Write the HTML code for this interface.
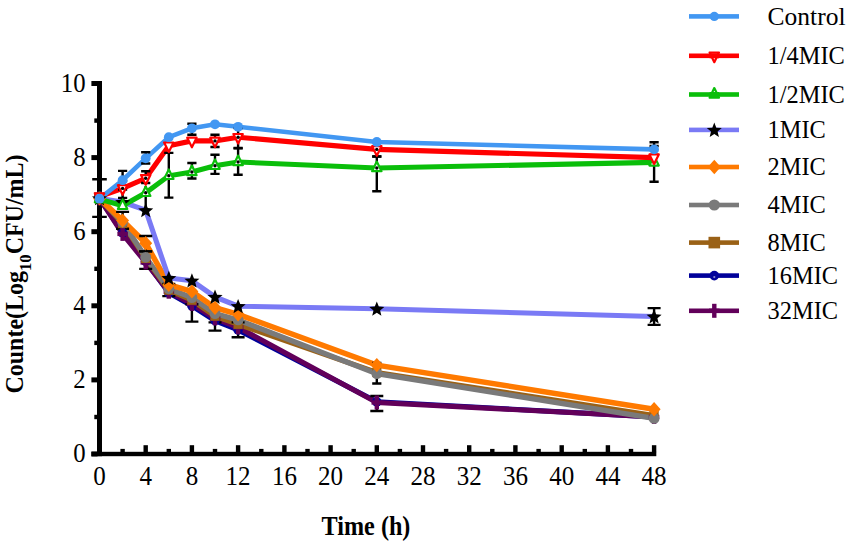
<!DOCTYPE html><html><head><meta charset="utf-8"><style>html,body{margin:0;padding:0;background:#fff;width:851px;height:548px;overflow:hidden}svg{display:block}text{font-family:"Liberation Serif",serif}</style></head><body><svg width="851" height="548" viewBox="0 0 851 548"><rect width="851" height="548" fill="#fff"/><rect x="97" y="81" width="5" height="375.2" fill="#000"/><rect x="91.4" y="451.8" width="564.9" height="4.4" fill="#000"/><rect x="91.4" y="451.5" width="6" height="5" fill="#000"/><rect x="94.3" y="414.8" width="3" height="4.4" fill="#000"/><rect x="91.4" y="377.4" width="6" height="5" fill="#000"/><rect x="94.3" y="340.7" width="3" height="4.4" fill="#000"/><rect x="91.4" y="303.3" width="6" height="5" fill="#000"/><rect x="94.3" y="266.6" width="3" height="4.4" fill="#000"/><rect x="91.4" y="229.2" width="6" height="5" fill="#000"/><rect x="94.3" y="192.5" width="3" height="4.4" fill="#000"/><rect x="91.4" y="155.1" width="6" height="5" fill="#000"/><rect x="94.3" y="118.4" width="3" height="4.4" fill="#000"/><rect x="91.4" y="81.0" width="6" height="5" fill="#000"/><rect x="97.3" y="445.2" width="4.4" height="7" fill="#000"/><rect x="120.4" y="448.9" width="4.4" height="3.5" fill="#000"/><rect x="143.5" y="445.2" width="4.4" height="7" fill="#000"/><rect x="166.6" y="448.9" width="4.4" height="3.5" fill="#000"/><rect x="189.7" y="445.2" width="4.4" height="7" fill="#000"/><rect x="212.8" y="448.9" width="4.4" height="3.5" fill="#000"/><rect x="235.9" y="445.2" width="4.4" height="7" fill="#000"/><rect x="259.1" y="448.9" width="4.4" height="3.5" fill="#000"/><rect x="282.2" y="445.2" width="4.4" height="7" fill="#000"/><rect x="305.3" y="448.9" width="4.4" height="3.5" fill="#000"/><rect x="328.4" y="445.2" width="4.4" height="7" fill="#000"/><rect x="351.5" y="448.9" width="4.4" height="3.5" fill="#000"/><rect x="374.6" y="445.2" width="4.4" height="7" fill="#000"/><rect x="397.7" y="448.9" width="4.4" height="3.5" fill="#000"/><rect x="420.8" y="445.2" width="4.4" height="7" fill="#000"/><rect x="443.9" y="448.9" width="4.4" height="3.5" fill="#000"/><rect x="467.0" y="445.2" width="4.4" height="7" fill="#000"/><rect x="490.1" y="448.9" width="4.4" height="3.5" fill="#000"/><rect x="513.2" y="445.2" width="4.4" height="7" fill="#000"/><rect x="536.4" y="448.9" width="4.4" height="3.5" fill="#000"/><rect x="559.5" y="445.2" width="4.4" height="7" fill="#000"/><rect x="582.6" y="448.9" width="4.4" height="3.5" fill="#000"/><rect x="605.7" y="445.2" width="4.4" height="7" fill="#000"/><rect x="628.8" y="448.9" width="4.4" height="3.5" fill="#000"/><rect x="651.9" y="445.2" width="4.4" height="7" fill="#000"/><polyline points="99.5,198.4 122.6,232.8 145.7,261.3 168.8,292.8 191.9,305.8 215.0,320.6 238.1,329.9 376.8,401.8 654.1,416.9" fill="none" stroke="#00009a" stroke-width="5.1" stroke-linejoin="miter" stroke-miterlimit="3"/><polyline points="99.5,198.4 122.6,233.9 145.7,262.5 168.8,291.7 191.9,303.9 215.0,318.4 238.1,327.3 376.8,402.5 654.1,416.9" fill="none" stroke="#62005a" stroke-width="5.1" stroke-linejoin="miter" stroke-miterlimit="3"/><polyline points="99.5,198.4 122.6,223.5 145.7,258.4 168.8,290.2 191.9,300.2 215.0,316.2 238.1,324.3 376.8,372.5 654.1,415.5" fill="none" stroke="#9a6116" stroke-width="5.1" stroke-linejoin="miter" stroke-miterlimit="3"/><polyline points="99.5,198.4 122.6,222.1 145.7,257.3 168.8,288.8 191.9,297.6 215.0,313.6 238.1,319.9 376.8,373.6 654.1,418.4" fill="none" stroke="#7a7a7a" stroke-width="5.3" stroke-linejoin="miter" stroke-miterlimit="3"/><polyline points="99.5,198.4 122.6,220.6 145.7,243.2 168.8,284.7 191.9,291.4 215.0,307.7 238.1,314.3 376.8,365.1 654.1,409.2" fill="none" stroke="#ff7a00" stroke-width="5.5" stroke-linejoin="miter" stroke-miterlimit="3"/><polyline points="99.5,198.4 122.6,202.1 145.7,210.2 168.8,278.0 191.9,280.6 215.0,296.9 238.1,306.2 376.8,308.8 654.1,316.5" fill="none" stroke="#7a7af5" stroke-width="5.1" stroke-linejoin="miter" stroke-miterlimit="3"/><polyline points="99.5,199.1 122.6,205.8 145.7,192.8 168.8,175.8 191.9,172.0 215.0,165.8 238.1,162.0 376.8,168.0 654.1,162.4" fill="none" stroke="#0abe0a" stroke-width="5.1" stroke-linejoin="miter" stroke-miterlimit="3"/><polyline points="99.5,196.5 122.6,188.4 145.7,178.3 168.8,145.7 191.9,140.9 215.0,140.9 238.1,137.2 376.8,149.4 654.1,157.6" fill="none" stroke="#ff0000" stroke-width="5.1" stroke-linejoin="miter" stroke-miterlimit="3"/><polyline points="99.5,198.7 122.6,180.2 145.7,158.3 168.8,137.2 191.9,128.3 215.0,124.3 238.1,126.8 376.8,142.0 654.1,149.4" fill="none" stroke="#4297f2" stroke-width="4.6" stroke-linejoin="miter" stroke-miterlimit="3"/><path d="M99.5,179.2V216.9M92.2,179.2H106.8M92.2,216.9H106.8" stroke="#000" stroke-width="2.4" fill="none"/><path d="M122.6,170.9V189.5M118.0,170.9H127.2M118.0,189.5H127.2" stroke="#000" stroke-width="2.4" fill="none"/><path d="M145.7,152.3V163.5M141.1,152.3H150.3M141.1,163.5H150.3" stroke="#000" stroke-width="2.4" fill="none"/><path d="M191.9,123.7V134.7M187.3,123.7H196.5M187.3,134.7H196.5" stroke="#000" stroke-width="2.4" fill="none"/><path d="M654.1,142.3V155.0M649.5,142.3H658.7M649.5,155.0H658.7" stroke="#000" stroke-width="2.4" fill="none"/><path d="M122.6,181.0V197.9M118.0,181.0H127.2M118.0,197.9H127.2" stroke="#000" stroke-width="2.4" fill="none"/><path d="M145.7,171.3V183.0M141.1,171.3H150.3M141.1,183.0H150.3" stroke="#000" stroke-width="2.4" fill="none"/><path d="M215.0,134.7V147.0M210.4,134.7H219.6M210.4,147.0H219.6" stroke="#000" stroke-width="2.4" fill="none"/><path d="M238.1,128.0V148.0M233.5,128.0H242.7M233.5,148.0H242.7" stroke="#000" stroke-width="2.4" fill="none"/><path d="M376.8,148.0V156.5M372.2,148.0H381.4M372.2,156.5H381.4" stroke="#000" stroke-width="2.4" fill="none"/><path d="M168.8,152.9V197.6M164.2,152.9H173.4M164.2,197.6H173.4" stroke="#000" stroke-width="2.4" fill="none"/><path d="M191.9,163.0V178.5M187.3,163.0H196.5M187.3,178.5H196.5" stroke="#000" stroke-width="2.4" fill="none"/><path d="M215.0,154.7V173.9M210.4,154.7H219.6M210.4,173.9H219.6" stroke="#000" stroke-width="2.4" fill="none"/><path d="M238.1,148.4V174.8M233.5,148.4H242.7M233.5,174.8H242.7" stroke="#000" stroke-width="2.4" fill="none"/><path d="M376.8,156.5V191.2M372.2,156.5H381.4M372.2,191.2H381.4" stroke="#000" stroke-width="2.4" fill="none"/><path d="M654.1,146.0V181.7M649.5,146.0H658.7M649.5,181.7H658.7" stroke="#000" stroke-width="2.4" fill="none"/><path d="M122.6,211.9V228.7M116.1,211.9H129.1M116.1,228.7H129.1" stroke="#000" stroke-width="2.4" fill="none"/><path d="M145.7,236.0V251.4M139.2,236.0H152.2M139.2,251.4H152.2" stroke="#000" stroke-width="2.4" fill="none"/><path d="M145.7,251.4V268.9M139.2,251.4H152.2M139.2,268.9H152.2" stroke="#000" stroke-width="2.4" fill="none"/><path d="M168.8,284.0V296.1M162.3,284.0H175.3M162.3,296.1H175.3" stroke="#000" stroke-width="2.4" fill="none"/><path d="M191.9,304.3V321.6M185.4,304.3H198.4M185.4,321.6H198.4" stroke="#000" stroke-width="2.4" fill="none"/><path d="M215.0,322.4V330.6M208.5,322.4H221.5M208.5,330.6H221.5" stroke="#000" stroke-width="2.4" fill="none"/><path d="M238.1,322.4V337.2M231.6,322.4H244.6M231.6,337.2H244.6" stroke="#000" stroke-width="2.4" fill="none"/><path d="M376.8,363.0V383.5M372.2,363.0H381.4M372.2,383.5H381.4" stroke="#000" stroke-width="2.4" fill="none"/><path d="M376.8,396.0V411.0M370.3,396.0H383.3M370.3,411.0H383.3" stroke="#000" stroke-width="2.4" fill="none"/><path d="M654.1,308.1V324.9M647.6,308.1H660.6M647.6,324.9H660.6" stroke="#000" stroke-width="2.4" fill="none"/><path d="M145.7,186.0V207.0M145.7,186.0H145.7M145.7,207.0H145.7" stroke="#000" stroke-width="2.4" fill="none"/><circle cx="99.5" cy="198.4" r="4.8" fill="#00009a"/><circle cx="99.5" cy="199.9" r="1.1" fill="#8888cc"/><circle cx="122.6" cy="232.8" r="4.8" fill="#00009a"/><circle cx="122.6" cy="234.3" r="1.1" fill="#8888cc"/><circle cx="145.7" cy="261.3" r="4.8" fill="#00009a"/><circle cx="145.7" cy="262.8" r="1.1" fill="#8888cc"/><circle cx="168.8" cy="292.8" r="4.8" fill="#00009a"/><circle cx="168.8" cy="294.3" r="1.1" fill="#8888cc"/><circle cx="191.9" cy="305.8" r="4.8" fill="#00009a"/><circle cx="191.9" cy="307.3" r="1.1" fill="#8888cc"/><circle cx="215.0" cy="320.6" r="4.8" fill="#00009a"/><circle cx="215.0" cy="322.1" r="1.1" fill="#8888cc"/><circle cx="238.1" cy="329.9" r="4.8" fill="#00009a"/><circle cx="238.1" cy="331.4" r="1.1" fill="#8888cc"/><circle cx="376.8" cy="401.8" r="4.8" fill="#00009a"/><circle cx="376.8" cy="403.3" r="1.1" fill="#8888cc"/><circle cx="654.1" cy="416.9" r="4.8" fill="#00009a"/><circle cx="654.1" cy="418.4" r="1.1" fill="#8888cc"/><rect x="97.3" y="191.4" width="4.4" height="14.0" fill="#62005a"/><rect x="94.2" y="196.2" width="10.5" height="4.4" fill="#62005a"/><rect x="120.4" y="226.9" width="4.4" height="14.0" fill="#62005a"/><rect x="117.4" y="231.7" width="10.5" height="4.4" fill="#62005a"/><rect x="143.5" y="255.5" width="4.4" height="14.0" fill="#62005a"/><rect x="140.5" y="260.3" width="10.5" height="4.4" fill="#62005a"/><rect x="166.6" y="284.7" width="4.4" height="14.0" fill="#62005a"/><rect x="163.6" y="289.5" width="10.5" height="4.4" fill="#62005a"/><rect x="189.7" y="296.9" width="4.4" height="14.0" fill="#62005a"/><rect x="186.7" y="301.7" width="10.5" height="4.4" fill="#62005a"/><rect x="212.8" y="311.4" width="4.4" height="14.0" fill="#62005a"/><rect x="209.8" y="316.2" width="10.5" height="4.4" fill="#62005a"/><rect x="235.9" y="320.3" width="4.4" height="14.0" fill="#62005a"/><rect x="232.9" y="325.1" width="10.5" height="4.4" fill="#62005a"/><rect x="374.6" y="395.5" width="4.4" height="14.0" fill="#62005a"/><rect x="371.5" y="400.3" width="10.5" height="4.4" fill="#62005a"/><rect x="651.9" y="409.9" width="4.4" height="14.0" fill="#62005a"/><rect x="648.8" y="414.8" width="10.5" height="4.4" fill="#62005a"/><rect x="94.9" y="193.8" width="9.2" height="9.2" fill="#9a6116"/><rect x="118.0" y="218.9" width="9.2" height="9.2" fill="#9a6116"/><rect x="141.1" y="253.8" width="9.2" height="9.2" fill="#9a6116"/><rect x="164.2" y="285.6" width="9.2" height="9.2" fill="#9a6116"/><rect x="187.3" y="295.6" width="9.2" height="9.2" fill="#9a6116"/><rect x="210.4" y="311.6" width="9.2" height="9.2" fill="#9a6116"/><rect x="233.5" y="319.7" width="9.2" height="9.2" fill="#9a6116"/><rect x="372.2" y="367.9" width="9.2" height="9.2" fill="#9a6116"/><rect x="649.5" y="410.9" width="9.2" height="9.2" fill="#9a6116"/><circle cx="99.5" cy="198.4" r="5.4" fill="#7a7a7a"/><circle cx="122.6" cy="222.1" r="5.4" fill="#7a7a7a"/><circle cx="145.7" cy="257.3" r="5.4" fill="#7a7a7a"/><circle cx="168.8" cy="288.8" r="5.4" fill="#7a7a7a"/><circle cx="191.9" cy="297.6" r="5.4" fill="#7a7a7a"/><circle cx="215.0" cy="313.6" r="5.4" fill="#7a7a7a"/><circle cx="238.1" cy="319.9" r="5.4" fill="#7a7a7a"/><circle cx="376.8" cy="373.6" r="5.4" fill="#7a7a7a"/><circle cx="654.1" cy="418.4" r="5.4" fill="#7a7a7a"/><polygon points="99.5,191.2 106.0,198.4 99.5,205.6 93.0,198.4" fill="#ff7a00"/><polygon points="122.6,213.4 129.1,220.6 122.6,227.8 116.1,220.6" fill="#ff7a00"/><polygon points="145.7,236.0 152.2,243.2 145.7,250.4 139.2,243.2" fill="#ff7a00"/><polygon points="168.8,277.5 175.3,284.7 168.8,291.9 162.3,284.7" fill="#ff7a00"/><polygon points="191.9,284.2 198.4,291.4 191.9,298.6 185.5,291.4" fill="#ff7a00"/><polygon points="215.0,300.5 221.5,307.7 215.0,314.9 208.6,307.7" fill="#ff7a00"/><polygon points="238.1,307.1 244.6,314.3 238.1,321.5 231.7,314.3" fill="#ff7a00"/><polygon points="376.8,357.9 383.3,365.1 376.8,372.3 370.3,365.1" fill="#ff7a00"/><polygon points="654.1,402.0 660.6,409.2 654.1,416.4 647.6,409.2" fill="#ff7a00"/><polygon points="99.5,191.1 101.5,196.1 107.0,196.5 102.8,200.0 104.1,205.3 99.5,202.4 94.9,205.3 96.2,200.0 92.0,196.5 97.5,196.1" fill="#000"/><polygon points="122.6,194.8 124.7,199.8 130.1,200.2 125.9,203.7 127.3,209.1 122.6,206.1 118.0,209.1 119.3,203.7 115.1,200.2 120.6,199.8" fill="#000"/><polygon points="145.7,202.9 147.8,208.0 153.2,208.4 149.0,211.9 150.4,217.2 145.7,214.3 141.1,217.2 142.4,211.9 138.2,208.4 143.7,208.0" fill="#000"/><polygon points="168.8,270.7 170.9,275.8 176.3,276.2 172.1,279.7 173.5,285.0 168.8,282.1 164.2,285.0 165.5,279.7 161.3,276.2 166.8,275.8" fill="#000"/><polygon points="191.9,273.3 194.0,278.4 199.4,278.8 195.2,282.3 196.6,287.6 191.9,284.7 187.3,287.6 188.6,282.3 184.4,278.8 189.9,278.4" fill="#000"/><polygon points="215.0,289.6 217.1,294.7 222.6,295.1 218.3,298.6 219.7,303.9 215.0,301.0 210.4,303.9 211.7,298.6 207.5,295.1 213.0,294.7" fill="#000"/><polygon points="238.1,298.9 240.2,304.0 245.7,304.3 241.5,307.8 242.8,313.2 238.1,310.2 233.5,313.2 234.8,307.8 230.6,304.3 236.1,304.0" fill="#000"/><polygon points="376.8,301.5 378.8,306.6 384.3,306.9 380.1,310.4 381.4,315.8 376.8,312.8 372.2,315.8 373.5,310.4 369.3,306.9 374.8,306.6" fill="#000"/><polygon points="654.1,309.2 656.1,314.3 661.6,314.7 657.4,318.2 658.7,323.5 654.1,320.6 649.4,323.5 650.8,318.2 646.6,314.7 652.0,314.3" fill="#000"/><polygon points="94.8,202.3 104.2,202.3 99.5,192.7" fill="#fff" stroke="#0abe0a" stroke-width="2.2" stroke-linejoin="round"/><polygon points="117.9,209.0 127.3,209.0 122.6,199.4" fill="#fff" stroke="#0abe0a" stroke-width="2.2" stroke-linejoin="round"/><polygon points="141.0,196.0 150.4,196.0 145.7,186.4" fill="#fff" stroke="#0abe0a" stroke-width="2.2" stroke-linejoin="round"/><circle cx="145.7" cy="192.8" r="1.7" fill="#000"/><polygon points="164.1,179.0 173.5,179.0 168.8,169.4" fill="#fff" stroke="#0abe0a" stroke-width="2.2" stroke-linejoin="round"/><circle cx="168.8" cy="175.8" r="1.7" fill="#000"/><polygon points="187.2,175.2 196.6,175.2 191.9,165.6" fill="#fff" stroke="#0abe0a" stroke-width="2.2" stroke-linejoin="round"/><circle cx="191.9" cy="172.0" r="1.7" fill="#000"/><polygon points="210.3,169.0 219.7,169.0 215.0,159.4" fill="#fff" stroke="#0abe0a" stroke-width="2.2" stroke-linejoin="round"/><circle cx="215.0" cy="165.8" r="1.7" fill="#000"/><polygon points="233.4,165.2 242.8,165.2 238.1,155.6" fill="#fff" stroke="#0abe0a" stroke-width="2.2" stroke-linejoin="round"/><circle cx="238.1" cy="162.0" r="1.7" fill="#000"/><polygon points="372.1,171.2 381.5,171.2 376.8,161.6" fill="#fff" stroke="#0abe0a" stroke-width="2.2" stroke-linejoin="round"/><circle cx="376.8" cy="168.0" r="1.7" fill="#000"/><polygon points="649.4,165.6 658.8,165.6 654.1,156.0" fill="#fff" stroke="#0abe0a" stroke-width="2.2" stroke-linejoin="round"/><circle cx="654.1" cy="162.4" r="1.7" fill="#000"/><polygon points="94.8,193.3 104.2,193.3 99.5,202.9" fill="#fff" stroke="#ff0000" stroke-width="2.2" stroke-linejoin="round"/><polygon points="117.9,185.2 127.3,185.2 122.6,194.8" fill="#fff" stroke="#ff0000" stroke-width="2.2" stroke-linejoin="round"/><circle cx="122.6" cy="188.4" r="1.7" fill="#000"/><polygon points="141.0,175.1 150.4,175.1 145.7,184.7" fill="#fff" stroke="#ff0000" stroke-width="2.2" stroke-linejoin="round"/><circle cx="145.7" cy="178.3" r="1.7" fill="#000"/><polygon points="164.1,142.5 173.5,142.5 168.8,152.1" fill="#fff" stroke="#ff0000" stroke-width="2.2" stroke-linejoin="round"/><polygon points="187.2,137.7 196.6,137.7 191.9,147.3" fill="#fff" stroke="#ff0000" stroke-width="2.2" stroke-linejoin="round"/><polygon points="210.3,137.7 219.7,137.7 215.0,147.3" fill="#fff" stroke="#ff0000" stroke-width="2.2" stroke-linejoin="round"/><circle cx="215.0" cy="140.9" r="1.7" fill="#000"/><polygon points="233.4,134.0 242.8,134.0 238.1,143.6" fill="#fff" stroke="#ff0000" stroke-width="2.2" stroke-linejoin="round"/><circle cx="238.1" cy="137.2" r="1.7" fill="#000"/><polygon points="372.1,146.2 381.5,146.2 376.8,155.8" fill="#fff" stroke="#ff0000" stroke-width="2.2" stroke-linejoin="round"/><circle cx="376.8" cy="149.4" r="1.7" fill="#000"/><polygon points="649.4,154.4 658.8,154.4 654.1,164.0" fill="#fff" stroke="#ff0000" stroke-width="2.2" stroke-linejoin="round"/><circle cx="99.5" cy="198.7" r="4.9" fill="#4297f2"/><circle cx="122.6" cy="180.2" r="4.9" fill="#4297f2"/><circle cx="145.7" cy="158.3" r="4.9" fill="#4297f2"/><circle cx="168.8" cy="137.2" r="4.9" fill="#4297f2"/><circle cx="191.9" cy="128.3" r="4.9" fill="#4297f2"/><circle cx="215.0" cy="124.3" r="4.9" fill="#4297f2"/><circle cx="238.1" cy="126.8" r="4.9" fill="#4297f2"/><circle cx="376.8" cy="142.0" r="4.9" fill="#4297f2"/><circle cx="654.1" cy="149.4" r="4.9" fill="#4297f2"/><g font-size="27.5" fill="#000"><text transform="translate(85.5,462.2) scale(0.9,1)" text-anchor="end">0</text><text transform="translate(85.5,388.1) scale(0.9,1)" text-anchor="end">2</text><text transform="translate(85.5,314.0) scale(0.9,1)" text-anchor="end">4</text><text transform="translate(85.5,239.9) scale(0.9,1)" text-anchor="end">6</text><text transform="translate(85.5,165.8) scale(0.9,1)" text-anchor="end">8</text><text transform="translate(85.5,91.7) scale(0.9,1)" text-anchor="end">10</text><text transform="translate(99.5,485.4) scale(0.91,1)" text-anchor="middle">0</text><text transform="translate(145.7,485.4) scale(0.91,1)" text-anchor="middle">4</text><text transform="translate(191.9,485.4) scale(0.91,1)" text-anchor="middle">8</text><text transform="translate(238.1,485.4) scale(0.91,1)" text-anchor="middle">12</text><text transform="translate(284.4,485.4) scale(0.91,1)" text-anchor="middle">16</text><text transform="translate(330.6,485.4) scale(0.91,1)" text-anchor="middle">20</text><text transform="translate(376.8,485.4) scale(0.91,1)" text-anchor="middle">24</text><text transform="translate(423.0,485.4) scale(0.91,1)" text-anchor="middle">28</text><text transform="translate(469.2,485.4) scale(0.91,1)" text-anchor="middle">32</text><text transform="translate(515.4,485.4) scale(0.91,1)" text-anchor="middle">36</text><text transform="translate(561.7,485.4) scale(0.91,1)" text-anchor="middle">40</text><text transform="translate(607.9,485.4) scale(0.91,1)" text-anchor="middle">44</text><text transform="translate(654.1,485.4) scale(0.91,1)" text-anchor="middle">48</text></g><text transform="translate(366,535.3) scale(0.895,1)" font-weight="bold" font-size="27" text-anchor="middle">Time (h)</text><text transform="translate(23,274) rotate(-90) scale(0.952,1)" font-weight="bold" font-size="25.2" text-anchor="middle">Counte(Log<tspan font-size="17.5" dy="7.5">10</tspan><tspan dy="-7.5">CFU/mL)</tspan></text><rect x="689" y="14.1" width="50" height="4.6" fill="#4297f2"/><circle cx="714.3" cy="16.4" r="4.6" fill="#4297f2"/><text transform="translate(767.6,25.3) scale(1.02,1.03)" font-size="25">Control</text><rect x="689" y="53.5" width="50" height="4.6" fill="#ff0000"/><polygon points="709.6,52.6 719.0,52.6 714.3,62.2" fill="#fff" stroke="#ff0000" stroke-width="2.2" stroke-linejoin="round"/><rect x="709.6" y="53.3" width="9.4" height="5.0" fill="#ff0000"/><text transform="translate(767.6,63.8) scale(0.975,1.02)" font-size="25">1/4MIC</text><rect x="689" y="92.2" width="50" height="4.6" fill="#0abe0a"/><polygon points="709.6,97.7 719.0,97.7 714.3,88.1" fill="#fff" stroke="#0abe0a" stroke-width="2.2" stroke-linejoin="round"/><rect x="709.6" y="92.0" width="9.4" height="5.0" fill="#0abe0a"/><text transform="translate(767.6,102.5) scale(0.975,1.02)" font-size="25">1/2MIC</text><rect x="689" y="127.6" width="50" height="4.6" fill="#7a7af5"/><polygon points="714.3,122.6 716.3,127.7 721.8,128.1 717.6,131.6 718.9,136.9 714.3,134.0 709.7,136.9 711.0,131.6 706.8,128.1 712.3,127.7" fill="#000"/><text transform="translate(767.6,137.9) scale(0.975,1.02)" font-size="25">1MIC</text><rect x="689" y="164.7" width="50" height="4.6" fill="#ff7a00"/><polygon points="714.3,159.8 720.8,167.0 714.3,174.2 707.8,167.0" fill="#ff7a00"/><text transform="translate(767.6,175.0) scale(0.975,1.02)" font-size="25">2MIC</text><rect x="689" y="202.7" width="50" height="4.6" fill="#7a7a7a"/><circle cx="714.3" cy="205.0" r="5.6" fill="#7a7a7a"/><text transform="translate(767.6,213.0) scale(0.975,1.02)" font-size="25">4MIC</text><rect x="689" y="240.3" width="50" height="4.6" fill="#9a6116"/><rect x="708.5" y="236.8" width="11.6" height="11.6" fill="#9a6116"/><text transform="translate(767.6,250.6) scale(0.975,1.02)" font-size="25">8MIC</text><rect x="689" y="273.3" width="50" height="4.6" fill="#00009a"/><circle cx="714.3" cy="275.6" r="4.8" fill="#00009a"/><circle cx="714.3" cy="277.1" r="1.1" fill="#8888cc"/><text transform="translate(767.6,283.6) scale(0.975,1.02)" font-size="25">16MIC</text><rect x="689" y="308.5" width="50" height="4.6" fill="#62005a"/><rect x="712.1" y="303.8" width="4.4" height="14.0" fill="#62005a"/><rect x="709.0" y="308.6" width="10.5" height="4.4" fill="#62005a"/><text transform="translate(767.6,318.8) scale(0.975,1.02)" font-size="25">32MIC</text></svg></body></html>
